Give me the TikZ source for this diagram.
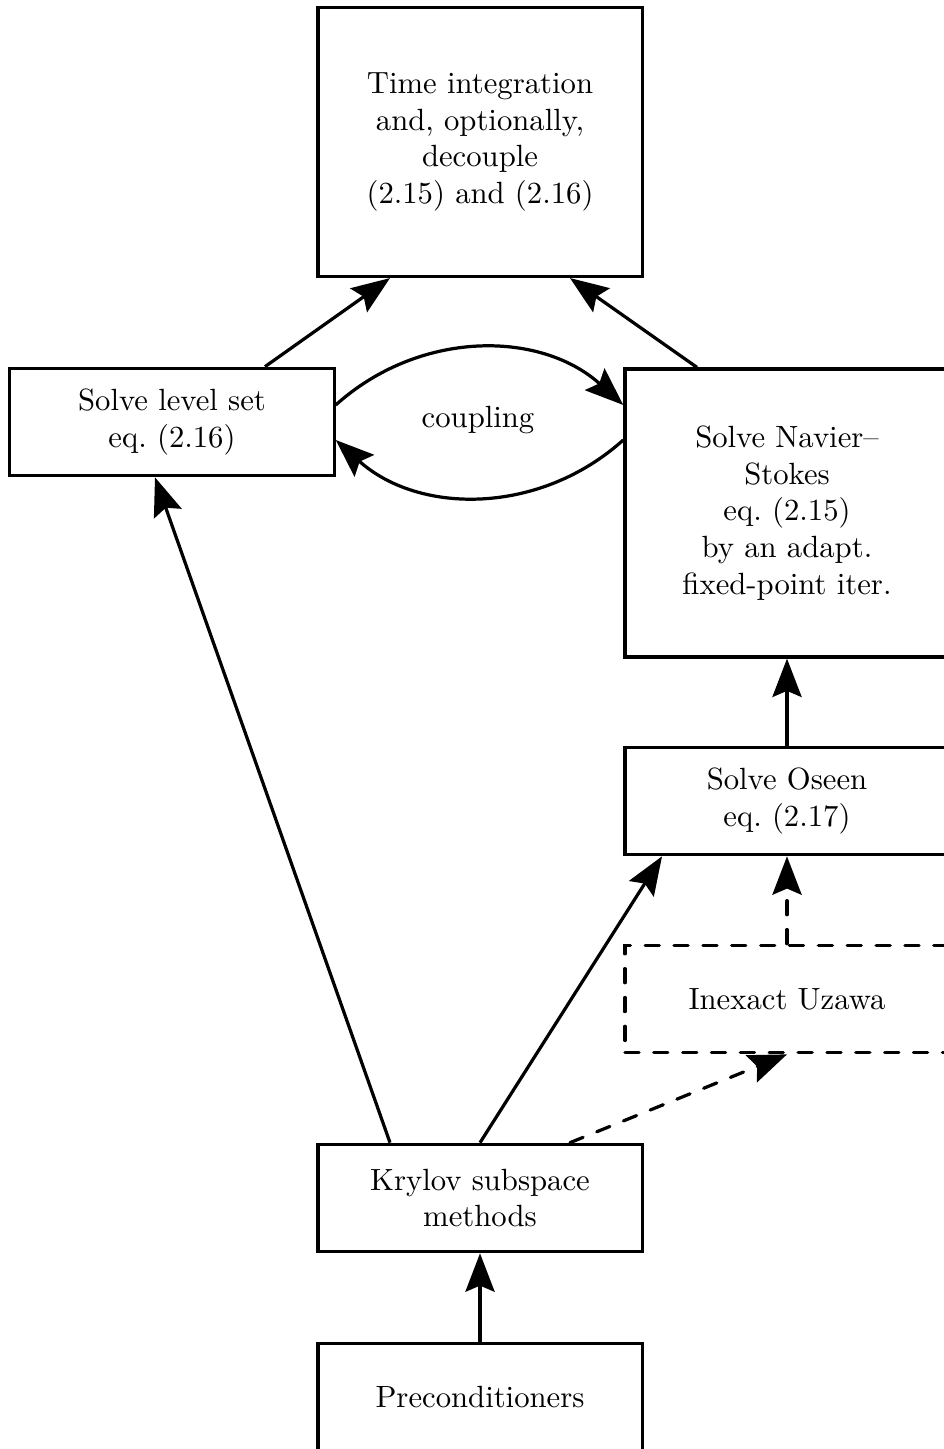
\documentclass[tikz,border=0pt]{standalone}
\usetikzlibrary{arrows.meta,calc}
\begin{document}
\begin{tikzpicture}[x=0.3257pt,y=-0.3257pt,
  line width=1.05pt,
  box/.style={draw,rectangle,align=center,minimum width=105.6pt,inner sep=2pt},
  tallbox/.style={box,minimum height=87.6pt},
  midbox/.style={box,minimum height=93.8pt},
  lowbox/.style={box,minimum height=35pt},
  dashbox/.style={lowbox,dash pattern=on 4.6pt off 4.8pt,line cap=round},
  flow/.style={-{Stealth[length=12.5pt,width=9.5pt,inset=2pt]}},
  dflow/.style={flow,dash pattern=on 4.6pt off 4.8pt,line cap=round}]
\useasboundingbox (0,0) rectangle (943,1449);

% boxes
\node[tallbox] (top) at (480,142) {Time integration\\and, optionally,\\decouple\\(2.15) and (2.16)};
\node[lowbox] (lvl) at (172,422) {Solve level set\\eq.~(2.16)};
\node[midbox] (ns) at (787,513) {Solve Navier--\\Stokes\\eq.~(2.15)\\by an adapt.\\fixed-point iter.};
\node[lowbox] (ose) at (787,801) {Solve Oseen\\eq.~(2.17)};
\node[dashbox] (uz) at (787,999) {Inexact Uzawa};
\node[lowbox] (kry) at (480,1198) {Krylov subspace\\methods};
\node[lowbox] (pre) at (480,1397) {Preconditioners};

% coupling between level set and Navier--Stokes
\coordinate (cu) at ($(lvl.east)+(0,-17)$);
\coordinate (cl) at ($(lvl.east)+(0,18)$);
\draw[flow] (cu) to[bend left=42] (ns.west |- cu);
\draw[flow] (ns.west |- cl) to[bend left=42] (cl);
\node at (478,420) {coupling};

% connectors
\draw[flow] ($(lvl.north)+(93,0)$) -- ($(top.south)+(-90,0)$);
\draw[flow] ($(ns.north)+(-90,0)$) -- ($(top.south)+(90,0)$);
\draw[flow] ($(kry.north)+(-90,0)$) -- ($(lvl.south)+(-17,0)$);
\draw[flow] (kry.north) -- ($(ose.south)+(-125,0)$);
\draw[dflow] ($(kry.north)+(90,0)$) -- (uz.south);
\draw[dflow] (uz.north) -- (ose.south);
\draw[flow] (ose.north) -- (ns.south);
\draw[flow] (pre.north) -- (kry.south);
\end{tikzpicture}
\end{document}
